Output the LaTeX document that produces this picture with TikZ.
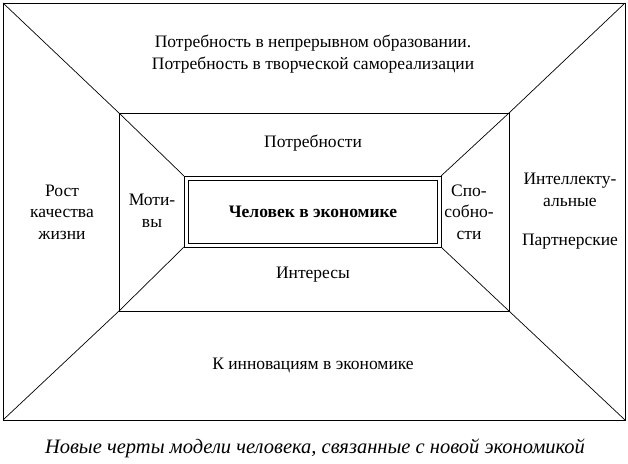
\documentclass[tikz,border=0pt]{standalone}
\usepackage{fontspec}
\setmainfont{Liberation Serif}
\usetikzlibrary{positioning}

\begin{document}
\begin{tikzpicture}[x=1pt,y=-1pt,
  lbl/.style={align=center,font=\fontsize{17.5}{21.5}\selectfont,inner sep=0pt},
  frame/.style={draw,line width=0.7pt}]
%
\useasboundingbox (0,0) rectangle (628,463);
%
\coordinate (o1) at (3,3);
\coordinate (o2) at (625,3);
\coordinate (o3) at (625,420);
\coordinate (o4) at (3,420);
\coordinate (m1) at (119,113);
\coordinate (m2) at (509,113);
\coordinate (m3) at (509,311);
\coordinate (m4) at (119,311);
\coordinate (i1) at (184,176);
\coordinate (i2) at (441,176);
\coordinate (i3) at (441,247);
\coordinate (i4) at (184,247);
%
\draw[frame] (o1) rectangle (o3);
\draw[frame] (m1) rectangle (m3);
\draw[frame] (i1) rectangle (i3);
\draw[frame] ([shift={(4,4)}]i1) rectangle ([shift={(-4,-4)}]i3);
\foreach \k in {1,...,4} {
  \draw[frame] (o\k) -- (m\k);
  \draw[frame] (m\k) -- (i\k);
}
%
\node[lbl] (top) at (313,54) {Потребность в непрерывном образовании.\\Потребность в творческой самореализации};
\node[lbl] (needs) at (313,143) {Потребности};
\node[lbl] (interests) at (313,275) {Интересы};
\node[lbl] (innov) at (313,365) {К инновациям в экономике};
\node[lbl] (growth) at (62,212) {Рост\\качества\\жизни};
\node[lbl] (motives) at (152,211) {Моти-\\вы};
\node[lbl] (abil) at (469,212) {Спо-\\собно-\\сти};
\node[lbl] (intel) at (570,190) {Интеллекту-\\альные};
\node[lbl] (partner) at (570,242) {Партнерские};
\node[lbl,font=\fontsize{17.5}{21}\selectfont\bfseries] (man) at (313,212) {Человек в экономике};
\node[lbl,font=\fontsize{20.5}{24}\selectfont\itshape] (caption) at (315,448) {Новые черты модели человека, связанные с новой экономикой};
%
\end{tikzpicture}
\end{document}
